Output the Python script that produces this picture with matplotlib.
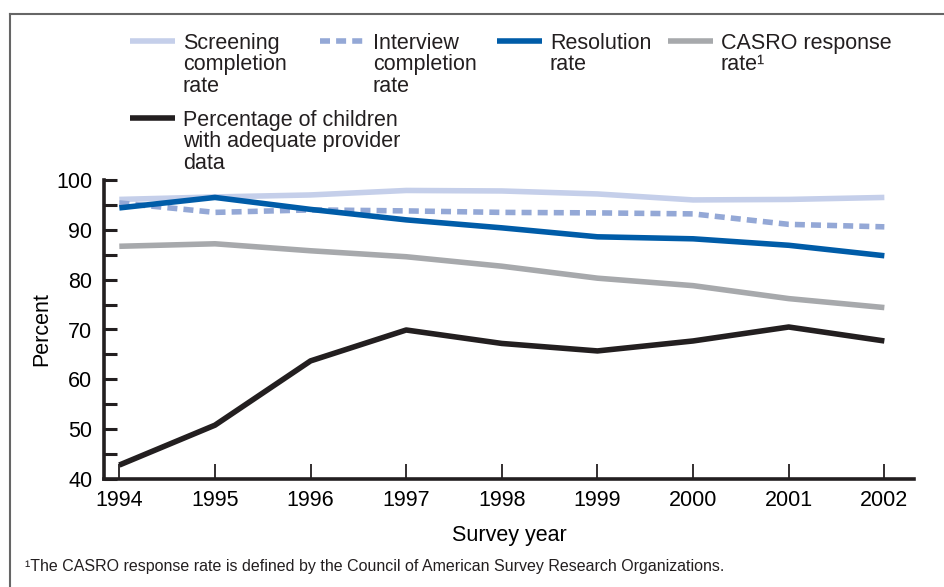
import matplotlib
matplotlib.use("Agg")
import matplotlib.pyplot as plt
from matplotlib.lines import Line2D

plt.rcParams["font.family"] = ["Liberation Sans", "DejaVu Sans"]

years = [1994, 1995, 1996, 1997, 1998, 1999, 2000, 2001, 2002]
screening = [96.1, 96.6, 97.0, 97.9, 97.8, 97.2, 96.0, 96.1, 96.5]
interview = [95.4, 93.5, 94.0, 93.8, 93.5, 93.4, 93.2, 91.1, 90.6]
resolution = [94.4, 96.5, 94.1, 92.0, 90.4, 88.6, 88.2, 86.9, 84.8]
casro = [86.7, 87.2, 85.8, 84.6, 82.7, 80.3, 78.8, 76.2, 74.4]
children = [42.8, 50.8, 63.7, 69.9, 67.2, 65.7, 67.7, 70.5, 67.7]

series = [
    ("Screening\ncompletion\nrate", screening, "#c5cfea", "-"),
    ("Interview\ncompletion\nrate", interview, "#94a8d6", (0, (1.8, 1.1))),
    ("Resolution\nrate", resolution, "#005ca8", "-"),
    ("CASRO response\nrate\u00b9", casro, "#a7a9ac", "-"),
    ("Percentage of children\nwith adequate provider\ndata", children, "#231f20", "-"),
]

W, H = 945, 587
fig = plt.figure(figsize=(W / 100, H / 100), dpi=100)
ax = fig.add_axes([104 / W, 1 - 479 / H, (914 - 104) / W, (479 - 180) / H])

for label, vals, color, ls in series:
    ax.plot(years, vals, color=color, lw=4.0, linestyle=ls, solid_capstyle="butt")

ax.set_xlim(1993.84, 2002.31)
ax.set_ylim(40, 100)
ax.set_xticks(years)
ax.set_yticks(range(40, 101, 10))
ax.set_yticks(range(45, 100, 10), minor=True)
ax.tick_params(axis="y", which="both", direction="in", length=9, width=2.2,
               color="#231f20", labelsize=15.5, pad=8.5)
ax.tick_params(axis="x", direction="in", length=11, width=1.3,
               color="#231f20", labelsize=15.5, pad=8)
for s in ["top", "right"]:
    ax.spines[s].set_visible(False)
for s in ["left", "bottom"]:
    ax.spines[s].set_linewidth(2.6)
    ax.spines[s].set_color("#231f20")
ax.set_ylabel("Percent", fontsize=15.5, labelpad=3)
ax.set_xlabel("Survey year", fontsize=15.5, labelpad=10)

# legend drawn by hand
legend_pos = [(130, 41), (320, 41), (497, 41), (668, 41), (130, 118)]
for (label, vals, color, ls), (x0, y0) in zip(series, legend_pos):
    fig.add_artist(Line2D([x0 / W, (x0 + 45) / W], [1 - y0 / H, 1 - y0 / H],
                          color=color, lw=4.0, linestyle=ls, solid_capstyle="butt"))
    fig.text((x0 + 53) / W, 1 - (y0 - 8) / H, label, fontsize=15.5, va="top",
             ha="left", linespacing=1.02, color="#231f20")

fig.text(25 / W, 1 - 566 / H,
         "\u00b9The CASRO response rate is defined by the Council of American Survey Research Organizations.",
         fontsize=11.5, va="center", ha="left", color="#231f20")

# frame around the figure
fig.add_artist(Line2D([10 / W, 1], [1 - 14 / H, 1 - 14 / H], color="#666666", lw=1.5))
fig.add_artist(Line2D([10 / W, 10 / W], [0, 1 - 14 / H], color="#666666", lw=1.5))

fig.savefig("out.png", dpi=100)
